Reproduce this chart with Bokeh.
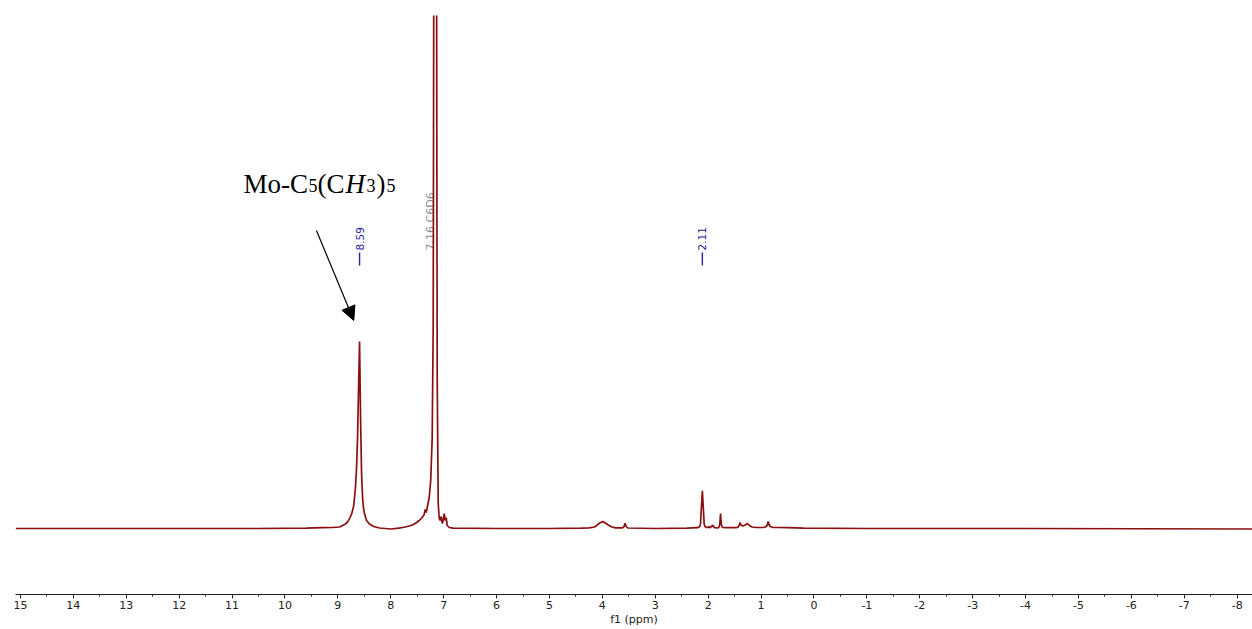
import math
from bokeh.plotting import figure
from bokeh.models import (Range1d, FixedTicker, Label, Arrow, NormalHead,
                          CustomJSTickFormatter)
from bokeh.core.properties import value
from bokeh.embed import file_html
from bokeh.resources import INLINE

# ---------------- data ----------------
ppm = [15.09, 14.0, 12.0, 10.5, 9.6, 9.3, 9.1,
       8.968, 8.855, 8.798, 8.741, 8.703, 8.685, 8.666, 8.647, 8.628, 8.609,
       8.590,
       8.571, 8.552, 8.533, 8.514, 8.495, 8.458, 8.401, 8.325, 8.212,
       8.0, 7.85,
       7.727, 7.614, 7.538, 7.462, 7.406, 7.368, 7.349, 7.330, 7.311, 7.273,
       7.245, 7.217, 7.198, 7.179,
       7.160,
       7.141, 7.122, 7.103, 7.084, 7.066, 7.047, 7.028, 7.009, 6.990, 6.971,
       6.952, 6.933, 6.895, 6.820,
       6.0, 5.0, 4.4,
       4.25, 4.15, 4.10, 4.05, 3.99, 3.93, 3.88, 3.82, 3.75,
       3.62, 3.59, 3.57, 3.55, 3.52,
       3.0, 2.4,
       2.20, 2.16, 2.145, 2.128, 2.118, 2.11, 2.102, 2.092, 2.075, 2.06, 2.03,
       2.0, 1.99, 1.96, 1.913, 1.88, 1.82,
       1.80, 1.785, 1.775, 1.766, 1.757, 1.747, 1.73,
       1.65, 1.5,
       1.44, 1.41, 1.395, 1.38, 1.34, 1.30, 1.256, 1.22, 1.17, 1.1,
       0.95, 0.90, 0.88, 0.865, 0.85, 0.83, 0.78,
       0.7, 0.5, 0.2, -1.0, -4.0, -8.29]
intensity = [0, 0, 0, 0, 0.3, 0.8, 1.0,
             1.5, 4.4, 8, 14.4, 22, 31, 42, 60, 90, 140,
             187,
             110, 55, 31, 20, 14.4, 8, 4.4, 2, 0.5,
             -0.5, 0.3,
             1.5, 3, 5, 8, 11, 14, 19, 16, 21, 31,
             48, 90, 200, 800,
             3000,
             800, 150, 25, 10, 8, 12, 5, 8, 15, 8,
             11, 3, 1, 0.3,
             0, 0, 0.3,
             0.6, 1.5, 3.3, 5.5, 7, 5, 3.3, 1.5, 0.6,
             0.6, 2, 5.3, 2, 0.5,
             0, 0.3,
             0.8, 2, 4.4, 21, 30, 37.7, 30, 21, 4.4, 2, 1,
             1, 2, 0.8, 3.3, 0.8, 0.5,
             1, 3, 8, 15, 8, 3, 1,
             0.8, 0.8,
             1, 3.5, 6, 3.5, 2.5, 3.5, 5, 3, 1.5, 1,
             1, 2, 4, 7, 4, 2, 1.2,
             1, 0.8, 0.3, 0, 0, -0.5]

peak_label_ppm = [8.59, 2.11]
solvent_label_ppm = [7.16]
solvent_label_text = ["7.16 C6D6"]

tick_values = list(range(-8, 16))
minor_tick_values = [t + 0.5 for t in range(-9, 15)]

# ---------------- figure ----------------
p = figure(width=1252, height=629, output_backend="svg", toolbar_location=None,
           x_range=Range1d(15.094, -8.29), y_range=Range1d(-66, 513),
           y_axis_location=None,
           min_border_left=15, min_border_right=0, min_border_top=15,
           min_border_bottom=35)
p.grid.visible = False
p.outline_line_color = None
p.background_fill_color = "white"
p.border_fill_color = "white"

ax = p.xaxis[0]
ax.ticker = FixedTicker(ticks=tick_values, minor_ticks=minor_tick_values)
ax.formatter = CustomJSTickFormatter(code="return tick.toFixed(0);")
ax.axis_line_color = "#222222"
ax.axis_line_width = 1
ax.major_tick_line_color = "#222222"
ax.minor_tick_line_color = "#222222"
ax.major_tick_out = 4
ax.major_tick_in = 0
ax.minor_tick_out = 2
ax.minor_tick_in = 0
ax.major_label_standoff = 2
ax.major_label_text_font = "DejaVu Sans"
ax.major_label_text_font_size = "11px"
ax.major_label_text_color = "#222222"
ax.axis_label = "f1 (ppm)"
ax.axis_label_standoff = 1
ax.axis_label_text_font = "DejaVu Sans"
ax.axis_label_text_font_size = "11px"
ax.axis_label_text_font_style = "normal"
ax.axis_label_text_color = "#222222"

# solvent label (behind the spectrum line)
p.text(x=solvent_label_ppm, y=[278] * len(solvent_label_ppm), text=solvent_label_text,
       angle=math.pi / 2, x_offset=-5, text_align="left", text_baseline="middle",
       text_font=value("DejaVu Sans"), text_font_size="11px", text_color="#8a8a8a")

# spectrum
p.line(ppm, intensity, line_color="#8b0f0f", line_width=1.7)

# peak labels
p.text(x=peak_label_ppm, y=[278] * len(peak_label_ppm),
       text=[f"{v:.2f}" for v in peak_label_ppm],
       angle=math.pi / 2, text_align="left", text_baseline="middle",
       text_font=value("DejaVu Sans"), text_font_size="10.5px", text_color="#23239a")
p.segment(x0=peak_label_ppm, y0=[276] * len(peak_label_ppm),
          x1=peak_label_ppm, y1=[263] * len(peak_label_ppm),
          line_color="#23239a", line_width=1.4)

# annotation title: Mo-C5(CH3)5
title_x, title_y = 10.785, 344.7
pieces = [("Mo-C", 0, 0, "27px", "normal"),
          ("5", 65, -2, "18px", "normal"),
          ("(C", 74, 0, "27px", "normal"),
          ("H", 102, 0, "27px", "italic"),
          ("3", 123, -2, "18px", "normal"),
          (")", 133, 0, "27px", "normal"),
          ("5", 143, -2, "18px", "normal")]
for txt, dx, dy, size, style in pieces:
    p.add_layout(Label(x=title_x, y=title_y, text=txt, x_offset=dx, y_offset=dy,
                       text_font="Liberation Serif", text_font_size=size,
                       text_font_style=style, text_color="black",
                       text_align="left", text_baseline="alphabetic"))

p.add_layout(Arrow(end=NormalHead(size=14, fill_color="black", line_color="black"),
                   x_start=9.405, y_start=298, x_end=8.699, y_end=208,
                   line_color="black", line_width=1.2))

open("out.html", "w").write(file_html(p, INLINE))
